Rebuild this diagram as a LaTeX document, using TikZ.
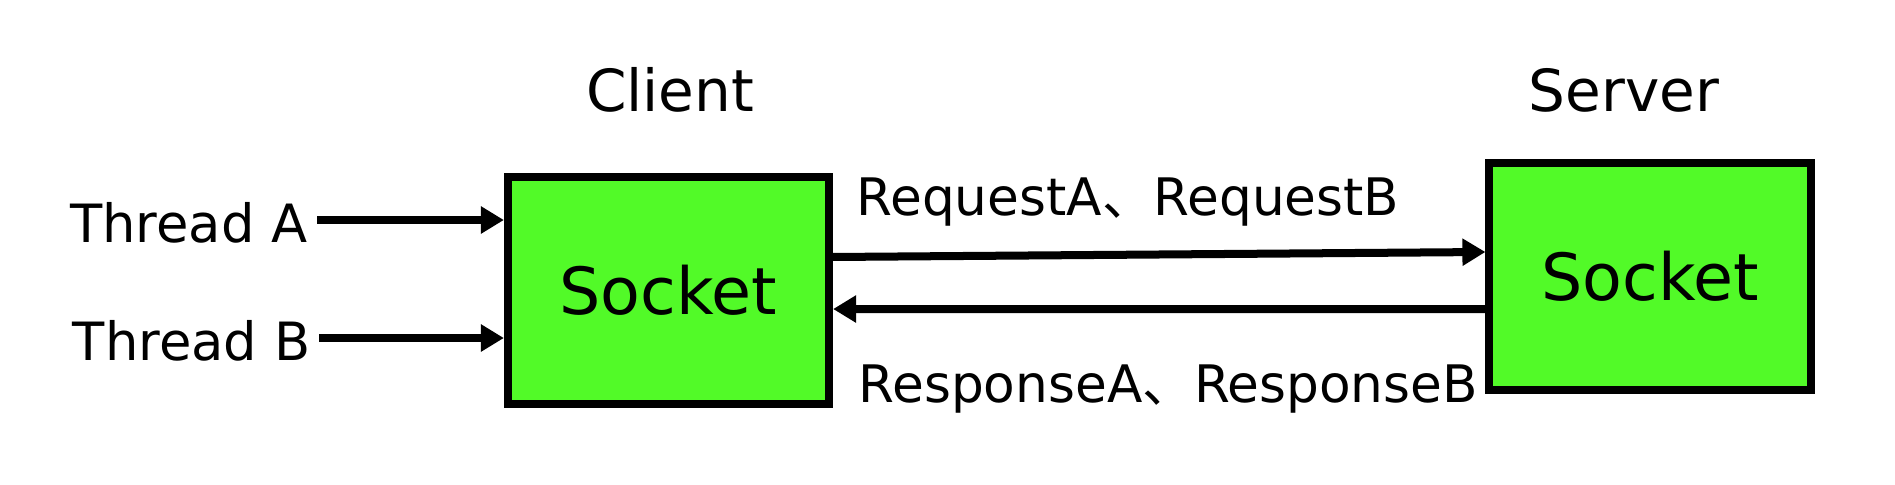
\documentclass[tikz,border=0pt]{standalone}
\usepackage{fontspec}
\setmainfont{DejaVu Sans}
\newfontfamily\cjk{Noto Sans CJK SC}
\usetikzlibrary{arrows.meta}
\definecolor{sockgreen}{RGB}{82,250,40}
\begin{document}
\begin{tikzpicture}[x=0.01cm,y=-0.01cm,
  sockbox/.style={draw=black, line width=0.08cm, fill=sockgreen, minimum width=3.21cm, minimum height=2.26cm, inner sep=0, font=\fontsize{18.5}{22}\selectfont},
  lbl/.style={inner sep=0, font=\fontsize{15}{18}\selectfont},
  msg/.style={inner sep=0, font=\fontsize{14.7}{18}\selectfont},
  ttl/.style={inner sep=0, font=\fontsize{16.5}{20}\selectfont},
  arr/.style={line width=0.08cm, -{Triangle[length=0.23cm,width=0.26cm]}}]
\path[use as bounding box] (0,0) rectangle (1895,484);
% boxes
\node[sockbox] (cs) at (668.5,290.5) {Socket};
\node[sockbox] (ss) at (1650,276.5) {Socket};
% titles
\node[ttl, anchor=base] (client) at (670,111) {Client};
\node[ttl, anchor=base] (server) at (1624,111) {Server};
% thread labels
\node[lbl, anchor=east] (ta) at (308,223) {Thread A};
\node[lbl, anchor=east] (tb) at (311,341) {Thread B};
% message labels
\node[msg, anchor=base west] (req) at (856,215) {RequestA{\cjk 、}RequestB};
\node[msg, anchor=base west] (resp) at (858,402) {ResponseA{\cjk 、}ResponseB};
% connectors
\coordinate (taS) at ([xshift=0.09cm,yshift=0.03cm]ta.east);
\coordinate (tbS) at ([xshift=0.08cm,yshift=0.03cm]tb.east);
\draw[arr] (taS) -- (taS -| cs.west);
\draw[arr] (tbS) -- (tbS -| cs.west);
\draw[arr] ([yshift=0.335cm]cs.east) -- ([yshift=0.245cm]ss.west);
\draw[arr] ([yshift=-0.325cm]ss.west) -- ([yshift=-0.185cm]cs.east);
\end{tikzpicture}
\end{document}
